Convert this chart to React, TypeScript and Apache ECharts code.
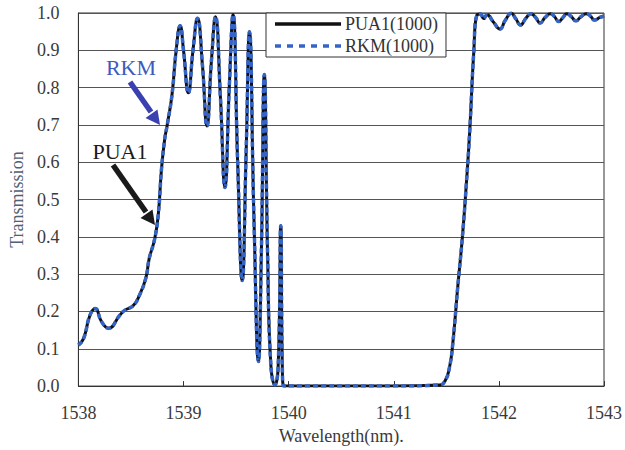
import React, { useEffect, useRef } from "react";
import * as echarts from "echarts";

const wavelength = [
  1538.0, 1538.05, 1538.11, 1538.16, 1538.22, 1538.286, 1538.394, 1538.44, 1538.519, 1538.58,
  1538.642, 1538.673, 1538.726, 1538.76, 1538.79, 1538.82, 1538.845, 1538.89, 1538.93, 1538.968,
  1539.0, 1539.046, 1539.09, 1539.133, 1539.18, 1539.223, 1539.265, 1539.304, 1539.35, 1539.394,
  1539.435, 1539.471, 1539.515, 1539.558, 1539.595, 1539.627, 1539.67, 1539.713, 1539.74, 1539.769,
  1539.8, 1539.83, 1539.869, 1539.9, 1539.925, 1539.94, 1539.955, 1540.2, 1541.0, 1541.436,
  1541.49, 1541.53, 1541.56, 1541.61, 1541.653, 1541.69, 1541.722, 1541.762, 1541.792, 1541.824,
  1541.855, 1541.886, 1541.95, 1542.01, 1542.06, 1542.118, 1542.16, 1542.206, 1542.255, 1542.304,
  1542.35, 1542.392, 1542.44, 1542.491, 1542.53, 1542.569, 1542.61, 1542.646, 1542.69, 1542.733,
  1542.78, 1542.832, 1542.87, 1542.91, 1542.96, 1543.0,
];

const pua1 = [
  0.11, 0.128, 0.19, 0.208, 0.173, 0.155, 0.19, 0.203, 0.215, 0.243,
  0.29, 0.341, 0.395, 0.46, 0.58, 0.66, 0.7, 0.78, 0.9, 0.966,
  0.9, 0.786, 0.9, 0.986, 0.86, 0.697, 0.87, 0.99, 0.78, 0.532,
  0.8, 0.995, 0.6, 0.283, 0.62, 0.95, 0.45, 0.066, 0.35, 0.835,
  0.35, 0.06, 0.003, 0.05, 0.43, 0.05, 0.0, 0.0, 0.0, 0.003,
  0.015, 0.05, 0.11, 0.27, 0.4, 0.54, 0.68, 0.9, 0.995, 0.997,
  0.985, 0.995, 0.975, 0.957, 0.98, 0.999, 0.985, 0.968, 0.985, 0.998,
  0.988, 0.973, 0.988, 0.998, 0.99, 0.977, 0.988, 0.998, 0.99, 0.979,
  0.99, 0.998, 0.992, 0.981, 0.988, 0.992,
];

const rkm = [
  0.11, 0.128, 0.19, 0.208, 0.173, 0.155, 0.19, 0.203, 0.215, 0.243,
  0.29, 0.341, 0.395, 0.46, 0.58, 0.66, 0.7, 0.78, 0.9, 0.966,
  0.9, 0.786, 0.9, 0.986, 0.86, 0.697, 0.87, 0.99, 0.78, 0.532,
  0.8, 0.995, 0.6, 0.283, 0.62, 0.95, 0.45, 0.066, 0.35, 0.835,
  0.35, 0.06, 0.003, 0.05, 0.43, 0.05, 0.0, 0.0, 0.0, 0.003,
  0.015, 0.05, 0.11, 0.27, 0.4, 0.54, 0.68, 0.9, 0.995, 0.997,
  0.985, 0.995, 0.975, 0.957, 0.98, 0.999, 0.985, 0.968, 0.985, 0.998,
  0.988, 0.973, 0.988, 0.998, 0.99, 0.977, 0.988, 0.998, 0.99, 0.979,
  0.99, 0.998, 0.992, 0.981, 0.988, 0.992,
];

const seriesNames = ["PUA1(1000)", "RKM(1000)"];
const xAxisTitle = "Wavelength(nm).";
const yAxisTitle = "Transmission";

const FONT = '"Liberation Serif", "Times New Roman", serif';

const SOLID_ICON = "path://M0,0H66V3.5H0Z";
const DASH_ICON =
  "path://M0,0H6V3.5H0Z M12,0H18V3.5H12Z M24,0H30V3.5H24Z M36,0H42V3.5H36Z M48,0H54V3.5H48Z M60,0H66V3.5H60Z";

export default function App() {
  const ref = useRef<HTMLDivElement>(null);

  useEffect(() => {
    if (!ref.current) return;
    const chart = echarts.init(ref.current, undefined, { renderer: "svg" });
    const pairs = (ys: number[]) => wavelength.map((x, i) => [x, ys[i]]);

    chart.setOption({
      animation: false,
      backgroundColor: "#ffffff",
      textStyle: { fontFamily: FONT },
      grid: {
        left: 71,
        right: 17,
        top: 13,
        bottom: 62,
        show: true,
        borderColor: "#333",
        borderWidth: 1,
        backgroundColor: "transparent",
      },
      legend: {
        left: 266,
        top: 13,
        orient: "vertical",
        data: [
          { name: seriesNames[0], icon: SOLID_ICON },
          { name: seriesNames[1], icon: DASH_ICON },
        ],
        itemWidth: 66,
        itemHeight: 3.5,
        itemGap: 4,
        symbolKeepAspect: false,
        padding: [2, 8, 2, 9],
        backgroundColor: "#ffffff",
        borderColor: "#333",
        borderWidth: 1,
        borderRadius: 0,
        itemStyle: { borderWidth: 0 },
        textStyle: {
          fontFamily: FONT,
          fontSize: 18,
          color: "#333",
          lineHeight: 17,
          padding: [0, 0, 0, -1],
        },
      },
      xAxis: {
        type: "value",
        min: 1538,
        max: 1543,
        interval: 1,
        name: xAxisTitle,
        nameLocation: "middle",
        nameGap: 40,
        nameTextStyle: { fontFamily: FONT, fontSize: 18, color: "#3a3a3a" },
        axisLine: { show: true, lineStyle: { color: "#333", width: 1 } },
        axisTick: { show: true, inside: true, length: 5, lineStyle: { color: "#333" } },
        axisLabel: {
          fontFamily: FONT,
          fontSize: 18,
          color: "#3a3a3a",
          margin: 18,
          formatter: (v: number) => String(Math.round(v)),
        },
        splitLine: { show: false },
      },
      yAxis: {
        type: "value",
        min: 0,
        max: 1,
        interval: 0.1,
        name: yAxisTitle,
        nameLocation: "middle",
        nameGap: 44,
        nameTextStyle: { fontFamily: FONT, fontSize: 18, color: "#4e6075" },
        axisLine: { show: true, lineStyle: { color: "#333", width: 1 } },
        axisTick: { show: false },
        axisLabel: {
          fontFamily: FONT,
          fontSize: 18,
          color: "#3a3a3a",
          margin: 19,
          formatter: (v: number) => v.toFixed(1),
        },
        splitLine: { show: true, lineStyle: { color: "#555", width: 1 } },
      },
      series: [
        {
          name: seriesNames[0],
          type: "line",
          data: pairs(pua1),
          showSymbol: false,
          symbol: "none",
          smooth: 0.5,
          lineStyle: { color: "#111", width: 3 },
          itemStyle: { color: "#111" },
          z: 2,
        },
        {
          name: seriesNames[1],
          type: "line",
          data: pairs(rkm),
          showSymbol: false,
          symbol: "none",
          smooth: 0.5,
          lineStyle: { color: "#3464c8", width: 3.5, type: [5, 3] },
          itemStyle: { color: "#3464c8" },
          z: 3,
        },
      ],
      graphic: [
        {
          type: "text",
          x: 131,
          y: 67,
          style: {
            text: "RKM",
            fill: "#3d5bbf",
            font: `22px ${FONT}`,
            textAlign: "center",
            textVerticalAlign: "middle",
          },
          z: 10,
        },
        {
          type: "text",
          x: 120,
          y: 151,
          style: {
            text: "PUA1",
            fill: "#1a1a1a",
            font: `22px ${FONT}`,
            textAlign: "center",
            textVerticalAlign: "middle",
          },
          z: 10,
        },
        {
          type: "line",
          shape: { x1: 130, y1: 82, x2: 151, y2: 112 },
          style: { stroke: "#3a40b0", lineWidth: 5.5 },
          z: 10,
        },
        {
          type: "polygon",
          shape: { points: [[160, 125], [145.5, 118], [157.5, 109.5]] },
          style: { fill: "#3a40b0" },
          z: 10,
        },
        {
          type: "line",
          shape: { x1: 113, y1: 165, x2: 146, y2: 212 },
          style: { stroke: "#1a1a1a", lineWidth: 5.5 },
          z: 10,
        },
        {
          type: "polygon",
          shape: { points: [[155, 225], [140.5, 218], [152.5, 209.5]] },
          style: { fill: "#1a1a1a" },
          z: 10,
        },
      ],
    });

    return () => chart.dispose();
  }, []);

  return (
    <div
      ref={ref}
      style={{ position: "fixed", left: 0, top: 0, width: 625, height: 450, background: "#fff" }}
    />
  );
}
